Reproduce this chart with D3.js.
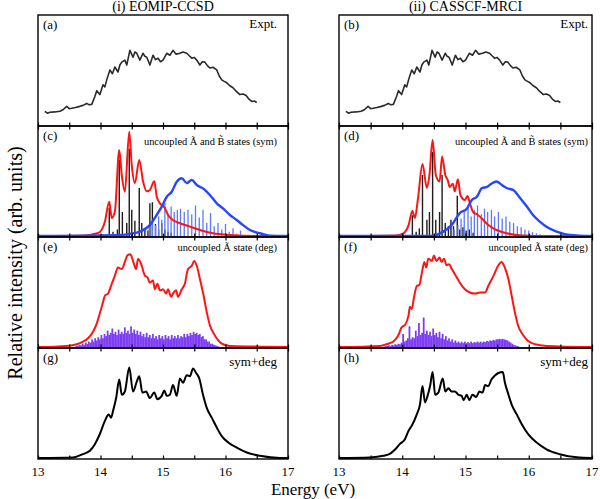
<!DOCTYPE html>
<html><head><meta charset="utf-8">
<script src="https://cdn.jsdelivr.net/npm/d3@7"></script>
<style>
body{margin:0;background:#fff}
svg{display:block}
svg text{font-family:"Liberation Serif","Times New Roman",Times,"DejaVu Serif",serif;fill:#000}
</style>
</head><body>
<svg id="chart" width="600" height="499" font-family="Liberation Serif, Times New Roman, serif"></svg>
<script>
// ---------------- DATA ----------------
const columnTitles = ["(i) EOMIP-CCSD", "(ii) CASSCF-MRCI"];
const panelLabels = [["(a)","(c)","(e)","(g)"],["(b)","(d)","(f)","(h)"]];
const panelTags = ["Expt.", "uncoupled \u00C3 and B\u0303 states (sym)", "uncoupled \u00C3 state (deg)", "sym+deg"];
const tickLabels = [13, 14, 15, 16, 17];
const minorTicks = [13, 13.5, 14, 14.5, 15, 15.5, 16, 16.5, 17];
const xTitle = "Energy (eV)";
const yTitle = "Relative intensity (arb. units)";

// experiment (a),(b)
const exptE = [13.11,13.15,13.19,13.27,13.35,13.40,13.46,13.50,13.54,13.60,13.67,13.72,13.78,13.82,13.86,13.91,13.94,13.99,14.04,14.07,14.10,14.15,14.19,14.23,14.28,14.31,14.34,14.39,14.42,14.47,14.52,14.55,14.58,14.63,14.68,14.71,14.74,14.79,14.84,14.88,14.92,14.96,15.00,15.06,15.11,15.16,15.21,15.27,15.32,15.38,15.42,15.46,15.50,15.54,15.59,15.63,15.67,15.71,15.75,15.80,15.86,15.90,15.94,15.98,16.02,16.07,16.12,16.17,16.23,16.28,16.33,16.37,16.42,16.46,16.50];
const exptI = [0.126,0.108,0.117,0.12,0.126,0.14,0.171,0.15,0.153,0.16,0.171,0.18,0.198,0.185,0.189,0.261,0.315,0.279,0.369,0.35,0.414,0.505,0.47,0.532,0.486,0.55,0.577,0.595,0.55,0.685,0.622,0.67,0.658,0.595,0.658,0.63,0.622,0.55,0.64,0.6,0.613,0.58,0.595,0.658,0.64,0.685,0.65,0.658,0.67,0.658,0.635,0.613,0.62,0.595,0.55,0.58,0.577,0.545,0.523,0.53,0.505,0.45,0.414,0.40,0.387,0.36,0.342,0.31,0.279,0.285,0.27,0.24,0.216,0.22,0.207];

// (c) EOMIP-CCSD sym
const cRedE = [13.0,13.75,13.91,13.99,14.07,14.14,14.18,14.23,14.30,14.34,14.39,14.46,14.50,14.55,14.62,14.68,14.74,14.79,14.86,14.90,14.95,15.03,15.08,15.16,15.27,15.43,15.59,15.80,16.07,16.55,17.0];
const cRedI = [0,0.005,0.02,0.037,0.13,0.315,0.165,0.224,0.789,0.56,0.406,0.957,0.651,0.486,0.697,0.502,0.41,0.422,0.502,0.36,0.30,0.257,0.193,0.147,0.117,0.086,0.055,0.025,0.01,0,0];
const cBlueE = [13.0,14.36,14.47,14.63,14.79,14.90,14.98,15.06,15.14,15.22,15.30,15.38,15.46,15.54,15.64,15.75,15.86,15.96,16.07,16.18,16.28,16.39,16.55,16.71,17.0];
const cBlueI = [0,0.01,0.02,0.04,0.10,0.193,0.269,0.36,0.406,0.498,0.53,0.486,0.514,0.468,0.437,0.376,0.30,0.254,0.193,0.147,0.10,0.055,0.025,0.003,0];
const cStickE = [14.14,14.20,14.27,14.30,14.35,14.42,14.46,14.50,14.55,14.62,14.66,14.71,14.76,14.79,14.83,14.88,14.93,14.98,15.03,15.08,15.13];
const cStickI = [0.26,0.04,0.06,0.70,0.22,0.12,0.80,0.24,0.14,0.44,0.12,0.07,0.05,0.30,0.31,0.11,0.06,0.12,0.06,0.04,0.03];
const cBStickE = [14.72,14.78,14.83,14.88,14.93,14.98,15.03,15.08,15.13,15.18,15.23,15.28,15.34,15.40,15.46,15.52,15.58,15.64,15.70,15.76,15.82,15.88,15.94,16.00,16.06,16.12,16.18,16.24];
const cBStickI = [0.05,0.08,0.12,0.10,0.18,0.15,0.30,0.20,0.27,0.22,0.24,0.25,0.22,0.24,0.20,0.28,0.17,0.24,0.12,0.21,0.09,0.12,0.06,0.11,0.04,0.07,0.02,0.05];

// (d) CASSCF-MRCI sym
const dRedE = [13.0,13.90,14.02,14.10,14.16,14.20,14.25,14.32,14.39,14.43,14.48,14.53,14.59,14.63,14.68,14.72,14.75,14.80,14.83,14.88,14.92,14.99,15.03,15.07,15.12,15.18,15.26,15.36,15.49,15.65,15.91,16.3,17.0];
const dRedI = [0,0.005,0.025,0.10,0.23,0.165,0.35,0.66,0.44,0.56,0.88,0.56,0.50,0.73,0.56,0.51,0.45,0.48,0.41,0.52,0.376,0.33,0.367,0.30,0.22,0.20,0.16,0.10,0.055,0.025,0.005,0,0];
const dBlueE = [13.0,14.44,14.65,14.78,14.91,15.02,15.10,15.18,15.26,15.34,15.41,15.49,15.57,15.65,15.76,15.86,15.97,16.07,16.18,16.28,16.44,16.65,17.0];
const dBlueI = [0,0,0.04,0.10,0.21,0.25,0.33,0.36,0.44,0.45,0.48,0.50,0.47,0.44,0.42,0.35,0.27,0.19,0.13,0.085,0.04,0.01,0];
const dStickE = [14.16,14.22,14.27,14.32,14.39,14.43,14.48,14.53,14.59,14.63,14.68,14.73,14.77,14.81,14.87,14.91,14.96,15.01,15.06,15.12];
const dStickI = [0.19,0.04,0.07,0.56,0.15,0.22,0.77,0.15,0.22,0.56,0.12,0.09,0.15,0.09,0.37,0.06,0.08,0.05,0.06,0.03];
const dBStickE = [14.82,14.88,14.93,14.98,15.04,15.09,15.14,15.19,15.25,15.30,15.35,15.41,15.46,15.52,15.58,15.64,15.70,15.76,15.82,15.88,15.94,16.00,16.06,16.12,16.18];
const dBStickI = [0.06,0.10,0.16,0.22,0.26,0.18,0.24,0.28,0.20,0.25,0.22,0.24,0.18,0.22,0.16,0.18,0.13,0.12,0.09,0.08,0.06,0.05,0.035,0.025,0.015];

// (e) EOMIP-CCSD deg
const eRedE = [13.0,13.46,13.62,13.72,13.80,13.88,13.94,13.99,14.04,14.07,14.12,14.18,14.23,14.28,14.34,14.39,14.43,14.48,14.52,14.57,14.60,14.66,14.71,14.75,14.79,14.84,14.87,14.91,14.95,15.00,15.05,15.08,15.13,15.16,15.21,15.24,15.30,15.35,15.40,15.46,15.50,15.54,15.59,15.65,15.70,15.75,15.81,15.88,15.96,16.07,17.0];
const eRedI = [0,0.01,0.025,0.05,0.08,0.14,0.215,0.31,0.41,0.47,0.49,0.58,0.655,0.73,0.715,0.78,0.84,0.85,0.79,0.715,0.81,0.745,0.655,0.64,0.59,0.61,0.53,0.58,0.52,0.53,0.49,0.53,0.46,0.49,0.52,0.46,0.53,0.58,0.715,0.745,0.79,0.745,0.625,0.47,0.32,0.20,0.125,0.064,0.025,0.01,0];
const eHistStart = 13.60;
const eHistStep = 0.025;
const eHistI = [0.01,0.01,0.02,0.015,0.03,0.02,0.04,0.03,0.05,0.04,0.07,0.05,0.08,0.06,0.09,0.07,0.11,0.08,0.12,0.10,0.15,0.11,0.13,0.17,0.12,0.14,0.11,0.16,0.12,0.14,0.12,0.18,0.13,0.15,0.12,0.19,0.13,0.16,0.12,0.15,0.11,0.14,0.10,0.12,0.09,0.13,0.09,0.11,0.08,0.12,0.08,0.10,0.07,0.11,0.08,0.10,0.07,0.11,0.08,0.10,0.07,0.11,0.08,0.10,0.08,0.11,0.08,0.10,0.09,0.12,0.09,0.12,0.10,0.13,0.11,0.14,0.12,0.13,0.11,0.12,0.09,0.10,0.07,0.07,0.05,0.05,0.03,0.03,0.02,0.015,0.01,0.005];

// (f) CASSCF-MRCI deg
const fRedE = [13.0,13.65,13.75,13.86,13.94,13.99,14.04,14.10,14.12,14.15,14.19,14.23,14.27,14.31,14.35,14.38,14.41,14.47,14.50,14.54,14.59,14.62,14.66,14.70,14.74,14.78,14.86,14.91,14.99,15.07,15.15,15.23,15.31,15.36,15.44,15.52,15.57,15.62,15.68,15.73,15.78,15.83,15.91,15.99,16.10,16.28,17.0];
const fRedI = [0,0.01,0.025,0.05,0.11,0.18,0.20,0.29,0.37,0.35,0.47,0.56,0.57,0.68,0.78,0.73,0.81,0.79,0.84,0.79,0.82,0.78,0.81,0.75,0.76,0.72,0.64,0.59,0.53,0.50,0.49,0.50,0.50,0.56,0.65,0.75,0.78,0.73,0.62,0.47,0.32,0.20,0.11,0.055,0.025,0.01,0];
const fHistStart = 13.70;
const fHistStep = 0.025;
const fHistI = [0.005,0.01,0.01,0.015,0.01,0.02,0.015,0.025,0.02,0.03,0.025,0.04,0.12,0.05,0.06,0.08,0.19,0.07,0.09,0.08,0.15,0.10,0.22,0.11,0.13,0.27,0.12,0.15,0.11,0.14,0.10,0.17,0.11,0.13,0.09,0.14,0.08,0.12,0.07,0.10,0.06,0.08,0.05,0.07,0.04,0.06,0.04,0.05,0.035,0.05,0.035,0.05,0.035,0.045,0.035,0.05,0.035,0.045,0.04,0.05,0.04,0.05,0.04,0.05,0.045,0.055,0.05,0.06,0.055,0.065,0.06,0.07,0.07,0.075,0.07,0.075,0.07,0.065,0.06,0.05,0.04,0.03,0.02,0.015,0.01,0.005];

// (g),(h) sym+deg
const gE = [13.0,13.56,13.72,13.83,13.91,13.99,14.07,14.13,14.17,14.20,14.25,14.30,14.34,14.39,14.46,14.52,14.58,14.62,14.67,14.73,14.79,14.86,14.91,14.98,15.02,15.06,15.11,15.16,15.22,15.27,15.32,15.38,15.43,15.48,15.53,15.58,15.64,15.70,15.78,15.86,15.94,16.05,16.18,16.34,16.55,16.87,17.0];
const gI = [0,0.005,0.036,0.067,0.127,0.22,0.34,0.40,0.37,0.43,0.55,0.72,0.58,0.61,0.83,0.61,0.70,0.75,0.60,0.61,0.55,0.60,0.54,0.57,0.62,0.57,0.58,0.67,0.57,0.73,0.69,0.76,0.75,0.82,0.78,0.73,0.58,0.46,0.37,0.28,0.20,0.14,0.095,0.05,0.02,0.0,0];
const hE = [13.0,13.49,13.70,13.81,13.89,13.96,14.04,14.10,14.15,14.23,14.28,14.32,14.36,14.40,14.44,14.48,14.52,14.57,14.64,14.68,14.73,14.78,14.83,14.89,14.94,14.97,15.02,15.06,15.11,15.17,15.22,15.27,15.31,15.36,15.41,15.47,15.52,15.59,15.62,15.68,15.73,15.81,15.89,15.99,16.13,16.28,16.49,16.76,17.0];
const hI = [0,0.005,0.02,0.04,0.08,0.127,0.17,0.25,0.295,0.40,0.49,0.66,0.51,0.57,0.66,0.79,0.58,0.60,0.73,0.61,0.64,0.61,0.61,0.58,0.57,0.53,0.58,0.53,0.58,0.56,0.61,0.60,0.67,0.66,0.72,0.76,0.78,0.79,0.70,0.58,0.49,0.40,0.31,0.22,0.14,0.08,0.035,0.006,0];

// ---------------- DRAW ----------------
const FONT = "Liberation Serif, Times New Roman, serif";
const svg = d3.select("#chart");
const zip = (E, I) => E.map((e, i) => [e, I[i]]);
const hist = (start, step, I) => I.map((v, i) => [start + i * step, v, step]);

const COL = [{x0: 38, x1: 288, tagPad: 11}, {x0: 339, x1: 592, tagPad: 4}];
const ROW_TOP = [15, 126, 237, 348];
const ROW_H = 111;
const RED = "#ff1414", BLUE = "#2846ff", BSTICK = "#5c78ff", PURPLE = "#7c3cf4";

const panels = [
  [
    {lines: [{d: zip(exptE, exptI), c: "#2a2a2a", w: 1.6, curve: d3.curveLinear}]},
    {sticks: [{d: zip(cStickE, cStickI), c: "#1c1c1c", w: 1.4}, {d: zip(cBStickE, cBStickI), c: BSTICK, w: 1.3}],
     lines: [{d: zip(cRedE, cRedI), c: RED, w: 2}, {d: zip(cBlueE, cBlueI), c: BLUE, w: 2.4}]},
    {hist: {d: hist(eHistStart, eHistStep, eHistI), c: PURPLE},
     lines: [{d: zip(eRedE, eRedI), c: RED, w: 2}]},
    {lines: [{d: zip(gE, gI), c: "#000", w: 2}]}
  ],
  [
    {lines: [{d: zip(exptE, exptI), c: "#2a2a2a", w: 1.6, curve: d3.curveLinear}]},
    {sticks: [{d: zip(dStickE, dStickI), c: "#1c1c1c", w: 1.4}, {d: zip(dBStickE, dBStickI), c: BSTICK, w: 1.3}],
     lines: [{d: zip(dRedE, dRedI), c: RED, w: 2}, {d: zip(dBlueE, dBlueI), c: BLUE, w: 2.4}]},
    {hist: {d: hist(fHistStart, fHistStep, fHistI), c: PURPLE},
     lines: [{d: zip(fRedE, fRedI), c: RED, w: 2}]},
    {lines: [{d: zip(hE, hI), c: "#000", w: 2}]}
  ]
];
const tagBase = [13, 19, 14, 17.5];
const tagSize = [13, 10.4, 10.4, 13];

COL.forEach((col, ci) => {
  const x = d3.scaleLinear().domain([13, 17]).range([col.x0, col.x1]);
  svg.append("text").attr("x", (col.x0 + col.x1) / 2).attr("y", 11).attr("font-family", FONT)
    .attr("text-anchor", "middle").attr("font-size", 14).text(columnTitles[ci]);

  ROW_TOP.forEach((top, ri) => {
    const bottom = top + ROW_H;
    const y = d3.scaleLinear().domain([0, 1]).range([bottom - 1, bottom - 110]);
    const p = panels[ci][ri];
    const clipId = `clip${ci}${ri}`;
    svg.append("clipPath").attr("id", clipId).append("rect")
      .attr("x", col.x0).attr("y", top).attr("width", col.x1 - col.x0).attr("height", ROW_H);
    const g = svg.append("g").attr("clip-path", `url(#${clipId})`);

    if (p.hist) {
      g.selectAll(null).data(p.hist.d).join("rect")
        .attr("x", d => x(d[0]))
        .attr("width", d => Math.max(1, x(d[0] + d[2]) - x(d[0]) + 0.2))
        .attr("y", d => y(d[1]))
        .attr("height", d => y(0) - y(d[1]))
        .attr("fill", p.hist.c);
    }
    (p.sticks || []).forEach(s => {
      g.selectAll(null).data(s.d).join("line")
        .attr("x1", d => x(d[0])).attr("x2", d => x(d[0]))
        .attr("y1", y(0)).attr("y2", d => y(d[1]))
        .attr("stroke", s.c).attr("stroke-width", s.w);
    });
    (p.lines || []).forEach(l => {
      const line = d3.line().x(d => x(d[0])).y(d => y(d[1])).curve(l.curve || d3.curveMonotoneX);
      g.append("path").datum(l.d).attr("d", line)
        .attr("fill", "none").attr("stroke", l.c).attr("stroke-width", l.w)
        .attr("stroke-linejoin", "round");
    });

    const bAxis = d3.axisBottom(x).tickValues(minorTicks).tickSize(-3.5).tickFormat("");
    const ga = svg.append("g").attr("transform", `translate(0,${bottom})`).call(bAxis);
    ga.select(".domain").remove();
    ga.selectAll("line").attr("stroke", "#000").attr("stroke-width", 1.2);
    if (ri > 0) {
      const tAxis = d3.axisTop(x).tickValues(minorTicks).tickSize(-3.5).tickFormat("");
      const gt = svg.append("g").attr("transform", `translate(0,${top})`).call(tAxis);
      gt.select(".domain").remove();
      gt.selectAll("line").attr("stroke", "#000").attr("stroke-width", 1.2);
    }
    svg.append("rect").attr("x", col.x0).attr("y", top).attr("width", col.x1 - col.x0)
      .attr("height", ROW_H).attr("fill", "none").attr("stroke", "#000").attr("stroke-width", 1.4);

    svg.append("text").attr("x", col.x0 + 5).attr("y", top + 13.5).attr("font-family", FONT)
      .attr("font-size", 13).text(panelLabels[ci][ri]);
    svg.append("text").attr("x", col.x1 - col.tagPad).attr("y", top + tagBase[ri]).attr("font-family", FONT)
      .attr("text-anchor", "end").attr("font-size", tagSize[ri]).text(panelTags[ri]);
  });

  svg.selectAll(null).data(tickLabels).join("text")
    .attr("x", d => x(d)).attr("y", 475.5).attr("text-anchor", "middle").attr("font-family", FONT)
    .attr("font-size", 13).text(d => d);
});

svg.append("text").attr("x", 313).attr("y", 495).attr("text-anchor", "middle").attr("font-family", FONT)
  .attr("font-size", 17).text(xTitle);
svg.append("text").attr("transform", "translate(22,263) rotate(-90)").attr("font-family", FONT)
  .attr("text-anchor", "middle").attr("font-size", 20).text(yTitle);
</script>
</body></html>
